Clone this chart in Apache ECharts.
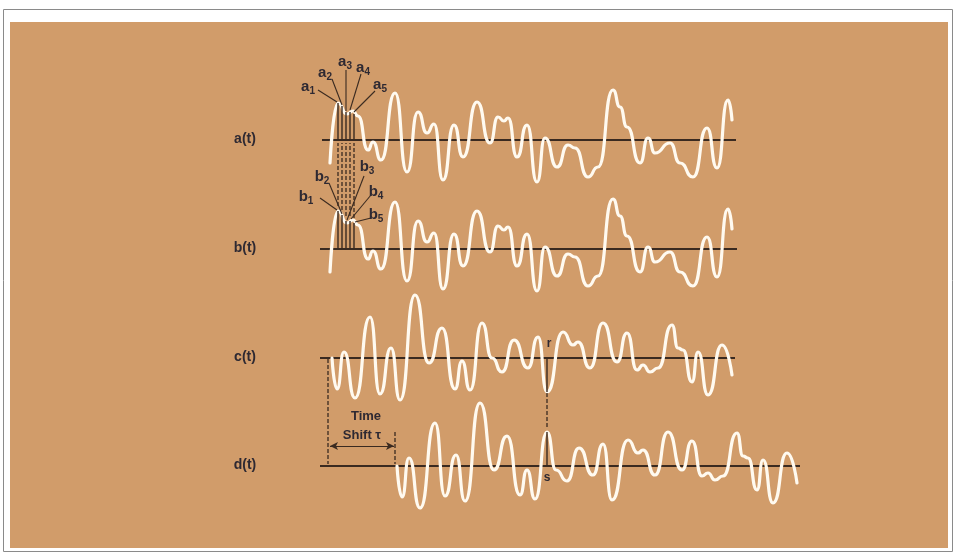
<!DOCTYPE html>
<html><head><meta charset="utf-8">
<script src="https://cdn.jsdelivr.net/npm/echarts@6/dist/echarts.min.js"></script>
<style>html,body{margin:0;padding:0;background:#fff}#c{width:956px;height:555px}</style>
</head><body><div id="c"></div><script>
// ---- data (t in figure units, value = height above the row's zero line)
const aTimes  = [330,338,347,353,358,368,373,381,395,407,418,427,434,443,454,463,477,490,498,504,508,517,527,537,545,557,568,575,588,598,613,620,627,640,648,655,670,680,693,707,717,728,732];
const aValues = [-23,37,26,29,24,-10,-2,-20,47,-32,28,7,16,-40,15,-17,38,-3,23,19,22,-17,15,-42,2,-27,-5,-8,-37,-27,50,33,13,-23,2,-13,-3,-23,-37,12,-28,40,20];
const bTimes  = [330,338,347,353,358,368,373,381,395,407,418,427,434,443,454,463,477,490,498,504,508,517,527,537,545,557,568,575,588,598,613,620,627,640,648,655,670,680,693,707,717,728,732];
const bValues = [-23,38,26,29,24,-10,-2,-20,47,-32,28,7,16,-40,15,-17,38,-3,23,19,22,-17,15,-42,2,-27,-5,-8,-37,-27,50,33,13,-23,2,-13,-3,-23,-37,12,-28,40,20];
const cTimes  = [332,337,344,355,370,380,391,400,415,429,442,455,462,470,482,492,502,514,528,538,547,563,573,578,590,603,617,627,637,643,650,658,672,678,683,692,698,708,722,732];
const cValues = [0,-31,6,-40,41,-36,10,-42,63,-5,30,-31,-3,-32,35,0,-14,18,-10,21,-34,26,13,16,-10,35,-4,25,-12,-7,-14,-10,33,10,8,-24,6,-37,13,-17];
const dTimes  = [397,402,409,420,435,445,456,465,480,494,507,520,527,535,547,556,567,579,593,603,612,628,638,643,655,668,682,692,702,708,715,723,737,743,748,757,763,773,787,797];
const dValues = [0,-31,8,-42,43,-30,11,-35,63,-4,30,-29,-4,-33,34,-4,-15,18,-9,22,-34,26,13,16,-9,34,-4,25,-10,-7,-14,-10,33,10,8,-24,6,-37,13,-17];
const zeroLineSpans = [[322,736],[320,737],[320,735],[320,800]];
const rowLabels = ['a(t)','b(t)','c(t)','d(t)'];
const sampleTimes = [338,342,346,350,354];
const aSamples = [37,34,28,28,26];
const bSamples = [38,34,28,28,26];
const sampleNames = ['1','2','3','4','5'];
const shiftTau = 65;

// ---- layout (pixel baselines of rows)
const rowBase = [140, 249, 358, 466];
const yMin = -60, yMax = 80;
const inkDark = '#2e2932', lineDark = '#3a2a20', wave = '#fffaf0';
const fontFam = '"Liberation Sans", Arial, sans-serif';

const grids = rowBase.map(b => ({left:0, right:0, top:b - yMax, height:yMax - yMin, show:false}));
const xAxes = rowBase.map((b,i) => ({type:'value', gridIndex:i, min:0, max:956, show:false}));
const yAxes = rowBase.map((b,i) => ({type:'value', gridIndex:i, min:yMin, max:yMax, show:false}));

function segSeries(grid, data, style, z){
  return {type:'custom', xAxisIndex:grid, yAxisIndex:grid, clip:false, z:z||5, silent:true,
    encode:{x:[0,2], y:[1,3]}, data:data,
    renderItem:function(params, api){
      const p1 = api.coord([api.value(0), api.value(1)]);
      const p2 = api.coord([api.value(2), api.value(3)]);
      return {type:'line', shape:{x1:p1[0],y1:p1[1],x2:p2[0],y2:p2[1]}, style:Object.assign({fill:null}, style)};
    }};
}
const series = [];
const waves = [[aTimes,aValues],[bTimes,bValues],[cTimes,cValues],[dTimes,dValues]];
waves.forEach((w,i) => {
  series.push({type:'line', xAxisIndex:i, yAxisIndex:i, symbol:'none', z:3, silent:true,
    data:[[zeroLineSpans[i][0],0],[zeroLineSpans[i][1],0]], lineStyle:{color:lineDark, width:2}});
  series.push({type:'line', xAxisIndex:i, yAxisIndex:i, symbol:'none', smooth:0.6, smoothMonotone:'x', z:4, silent:true,
    data:w[0].map((t,k)=>[t,w[1][k]]), lineStyle:{color:wave, width:3.2, cap:'round', join:'round'}});
});
// sample bars a_i and b_i
series.push(segSeries(0, sampleTimes.map((t,k)=>[t,0,t,aSamples[k]]), {stroke:lineDark, lineWidth:1.4}, 5));
series.push(segSeries(1, sampleTimes.map((t,k)=>[t,0,t,bSamples[k]]), {stroke:lineDark, lineWidth:1.4}, 5));
// dashed links from a's zero line down to b's curve (b units: a's zero line sits 109 above)
series.push(segSeries(1, sampleTimes.map((t,k)=>[t,bSamples[k]+5,t,106]), {stroke:lineDark, lineWidth:1.3, lineDash:[4,2]}, 5));
// leader lines
const aLeaders = [[318,50,337,38],[332,61,342,35],[346,70,346,29],[361,66,350,30],[375,49,354,28]];
const bLeaders = [[320,51,337,39],[329,66,342,35],[364,73,347,29],[371,54,351,30],[371,31,355,27]];
series.push(segSeries(0, aLeaders, {stroke:lineDark, lineWidth:1.1}, 6));
series.push(segSeries(1, bLeaders, {stroke:lineDark, lineWidth:1.1}, 6));
// r / s markers and time shift
series.push(segSeries(2, [[547,0,547,-34]], {stroke:lineDark, lineWidth:1.4}, 5));
series.push(segSeries(3, [[547,34,547,0]], {stroke:lineDark, lineWidth:1.4}, 5));
series.push(segSeries(3, [[547,73,547,37],[328,107,328,2],[328+shiftTau+2,34,328+shiftTau+2,2]], {stroke:lineDark, lineWidth:1.3, lineDash:[4,2]}, 5));
series.push({type:'line', xAxisIndex:3, yAxisIndex:3, symbol:'none', data:[], silent:true,
  markLine:{silent:true, symbol:['arrow','arrow'], symbolSize:[6,8], label:{show:false},
    lineStyle:{color:lineDark, width:1.2, type:'solid'},
    data:[[{coord:[330,20]},{coord:[328+shiftTau+1,20]}]]}});

const graphics = [
  {type:'rect', shape:{x:3.5,y:9.5,width:949,height:542}, style:{fill:'#fff', stroke:'#8a8a8a', lineWidth:1}, z:-10},
  {type:'rect', shape:{x:10,y:22,width:938,height:526}, style:{fill:'#d19c6a'}, z:-9}
];
rowLabels.forEach((s,i)=>graphics.push({type:'text', x:245, y:rowBase[i]-1, z:10,
  style:{text:s, fill:inkDark, font:'bold 14px '+fontFam, textAlign:'center', textVerticalAlign:'middle'}}));
const aLabelPos = [[308,87],[325,73],[345,62],[363,68],[380,85]];
const bLabelPos = [[306,197],[322,177],[367,167],[376,192],[376,215]];
function subLabel(letter, sub, p){
  return {type:'text', x:p[0], y:p[1], z:10, style:{text:'{m|'+letter+'}{s|'+sub+'}', textAlign:'center', textVerticalAlign:'middle',
    rich:{m:{font:'bold 15px '+fontFam, fill:inkDark}, s:{font:'bold 10px '+fontFam, fill:inkDark, padding:[8,0,0,0]}}}};
}
sampleNames.forEach((n,k)=>{ graphics.push(subLabel('a',n,aLabelPos[k])); graphics.push(subLabel('b',n,bLabelPos[k])); });
graphics.push({type:'text', x:366, y:416, z:10, style:{text:'Time', fill:inkDark, font:'bold 13px '+fontFam, textAlign:'center', textVerticalAlign:'middle'}});
graphics.push({type:'text', x:362, y:435, z:10, style:{text:'Shift \u03c4', fill:inkDark, font:'bold 13px '+fontFam, textAlign:'center', textVerticalAlign:'middle'}});
graphics.push({type:'text', x:549, y:344, z:10, style:{text:'r', fill:inkDark, font:'bold 12px '+fontFam, textAlign:'center', textVerticalAlign:'middle'}});
graphics.push({type:'text', x:547, y:478, z:10, style:{text:'s', fill:inkDark, font:'bold 12px '+fontFam, textAlign:'center', textVerticalAlign:'middle'}});

const chart = echarts.init(document.getElementById('c'), null, {renderer:'canvas'});
chart.setOption({animation:false, backgroundColor:'#fff', grid:grids, xAxis:xAxes, yAxis:yAxes, series:series, graphic:graphics});
</script></body></html>
